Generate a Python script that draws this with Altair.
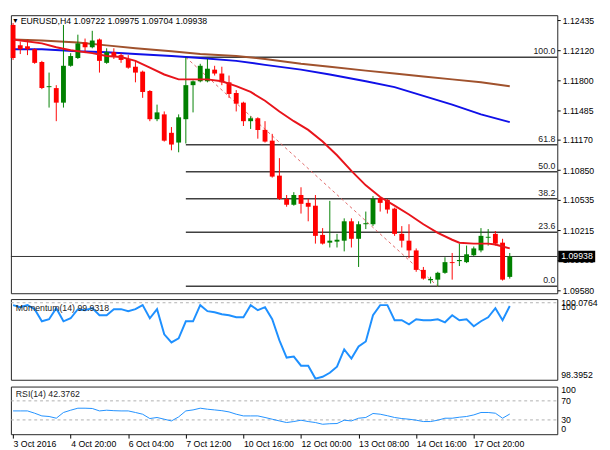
import altair as alt
import pandas as pd

FONT = "Liberation Sans"

# ---------------- data ----------------
opens = [1.12387, 1.12171, 1.12161, 1.12130, 1.11996, 1.11729, 1.11719, 1.11565, 1.11955, 1.12037,
         1.12202, 1.12151, 1.12233, 1.11986, 1.12099, 1.12068, 1.12027, 1.11945, 1.11893, 1.11688,
         1.11390, 1.11441, 1.11246, 1.11143, 1.11390, 1.11750, 1.11791, 1.11791, 1.11914, 1.11873,
         1.11780, 1.11667, 1.11565, 1.11369, 1.11400, 1.11277, 1.11163, 1.10793, 1.10547, 1.10485,
         1.10588, 1.10505, 1.10475, 1.10166, 1.10084, 1.10095, 1.10105, 1.10310, 1.10125, 1.10279,
         1.10279, 1.10557, 1.10536, 1.10444, 1.10177, 1.10105, 1.10002, 1.09796, 1.09686, 1.09693,
         1.09765, 1.09878, 1.09889, 1.09878, 1.09951, 1.10002, 1.10136, 1.10177, 1.10084, 1.09722]
highs = [1.12408, 1.12212, 1.12233, 1.12140, 1.12007, 1.11883, 1.11750, 1.12387, 1.12089, 1.12284,
         1.12243, 1.12325, 1.12243, 1.12140, 1.12140, 1.12089, 1.12068, 1.12007, 1.11904, 1.11698,
         1.11544, 1.11472, 1.11307, 1.11441, 1.12045, 1.11801, 1.11976, 1.12027, 1.11955, 1.11945,
         1.11852, 1.11698, 1.11575, 1.11421, 1.11410, 1.11369, 1.11235, 1.10978, 1.10588, 1.10618,
         1.10670, 1.10547, 1.10588, 1.10238, 1.10526, 1.10177, 1.10341, 1.10341, 1.10310, 1.10413,
         1.10577, 1.10567, 1.10547, 1.10454, 1.10259, 1.10279, 1.10023, 1.09827, 1.09724, 1.09776,
         1.09930, 1.09975, 1.10074, 1.10053, 1.10043, 1.10238, 1.10228, 1.10207, 1.10125, 1.09975]
lows = [1.12017, 1.12079, 1.12068, 1.11976, 1.11708, 1.11513, 1.11369, 1.11513, 1.11945, 1.12027,
        1.12089, 1.12140, 1.11883, 1.11976, 1.12027, 1.11986, 1.11924, 1.11780, 1.11616, 1.11369,
        1.11369, 1.11153, 1.11061, 1.11040, 1.11133, 1.11462, 1.11780, 1.11780, 1.11852, 1.11750,
        1.11616, 1.11472, 1.11318, 1.11287, 1.11184, 1.11143, 1.10772, 1.10536, 1.10464, 1.10475,
        1.10392, 1.10310, 1.10074, 1.10064, 1.10033, 1.10033, 1.09992, 1.10033, 1.09827, 1.10228,
        1.10259, 1.10413, 1.10392, 1.10156, 1.10033, 1.09920, 1.09776, 1.09693, 1.09652, 1.09622,
        1.09755, 1.09693, 1.09837, 1.09868, 1.09941, 1.09982, 1.10053, 1.10053, 1.09683, 1.09704]
closes = [1.12037, 1.12130, 1.12130, 1.11986, 1.11719, 1.11739, 1.11565, 1.11955, 1.12058, 1.12192,
          1.12151, 1.12222, 1.12007, 1.12099, 1.12058, 1.12017, 1.11935, 1.11883, 1.11678, 1.11390,
          1.11462, 1.11163, 1.11122, 1.11410, 1.11750, 1.11791, 1.11955, 1.11924, 1.11873, 1.11780,
          1.11657, 1.11554, 1.11369, 1.11400, 1.11277, 1.11153, 1.10783, 1.10547, 1.10485, 1.10588,
          1.10495, 1.10464, 1.10156, 1.10074, 1.10105, 1.10115, 1.10310, 1.10125, 1.10279, 1.10290,
          1.10547, 1.10505, 1.10434, 1.10177, 1.10105, 1.10002, 1.09796, 1.09704, 1.09700, 1.09765,
          1.09878, 1.09868, 1.09901, 1.09961, 1.10023, 1.10156, 1.10146, 1.10074, 1.09693, 1.09938]

tick_bars = [0, 8, 16, 24, 32, 40, 48, 56, 64]
tick_labels = ["3 Oct 2016", "4 Oct 20:00", "6 Oct 04:00", "7 Oct 12:00", "10 Oct 16:00",
               "12 Oct 00:00", "13 Oct 08:00", "14 Oct 16:00", "17 Oct 20:00"]

ma_red_bars = [0, 4, 6, 8, 11, 13, 15, 17, 19, 21, 23, 25, 27, 29, 31, 33, 35, 37, 39, 41, 43, 45,
               47, 49, 51, 53, 55, 57, 59, 61, 62, 64, 66, 67, 68, 69]
ma_red = [1.12233, 1.12192, 1.12151, 1.12120, 1.12089, 1.12058, 1.12048, 1.12007, 1.11935, 1.11863,
          1.11811, 1.11811, 1.11811, 1.11791, 1.11739, 1.11678, 1.11585, 1.11472, 1.11369, 1.11277,
          1.11153, 1.11009, 1.10844, 1.10690, 1.10567, 1.10475, 1.10382, 1.10279, 1.10187, 1.10115,
          1.10084, 1.10074, 1.10074, 1.10064, 1.10043, 1.10023]
ma_slow_bars = [0, 4, 9, 13, 17, 22, 26, 31, 35, 40, 44, 49, 53, 57, 61, 65, 69]
ma_blue = [1.12130, 1.12130, 1.12109, 1.12099, 1.12079, 1.12058, 1.12037, 1.12007, 1.11965, 1.11914,
           1.11863, 1.11791, 1.11729, 1.11636, 1.11544, 1.11441, 1.11359]
ma_brown = [1.12233, 1.12222, 1.12202, 1.12171, 1.12140, 1.12109, 1.12079, 1.12058, 1.12027, 1.11976,
            1.11945, 1.11904, 1.11873, 1.11842, 1.11811, 1.11780, 1.11739]

fib_labels = ["100.0", "61.8", "50.0", "38.2", "23.6", "0.0"]
fib_prices = [1.12045, 1.11119, 1.10834, 1.10548, 1.10194, 1.09622]
fib_start_bar = 24
trend_bars = [24, 59]
trend_prices = [1.12045, 1.09622]

price_ticks = [1.12435, 1.12120, 1.11800, 1.11485, 1.11170, 1.10850, 1.10535, 1.10215, 1.09900, 1.09580]
last_price = 1.09938

momentum = [99.950, 99.908, 99.950, 99.866, 99.614, 99.656, 99.887, 99.614, 99.677, 99.866,
            99.845, 99.887, 99.740, 99.740, 99.866, 99.866, 99.824, 99.866, 99.950, 99.677,
            99.866, 99.341, 99.173, 99.257, 99.614, 99.614, 99.950, 99.824, 99.803, 99.761,
            99.740, 99.698, 99.698, 99.950, 99.845, 99.908, 99.656, 99.215, 98.858, 98.879,
            98.689, 98.689, 98.420, 98.458, 98.542, 98.668, 99.026, 98.837, 99.089, 99.194,
            99.740, 99.950, 99.950, 99.635, 99.635, 99.551, 99.656, 99.635, 99.635, 99.656,
            99.593, 99.740, 99.635, 99.656, 99.509, 99.614, 99.698, 99.887, 99.635, 99.9318]
mom_min, mom_max = 98.3952, 100.0764

rsi = [48.9, 48.9, 48.9, 44.1, 38.4, 37.2, 33.6, 45.6, 50.4, 54.6,
       54.6, 54.0, 48.9, 50.4, 49.4, 48.9, 48.9, 45.6, 42.0, 32.9,
       35.1, 31.5, 27.9, 36.3, 48.9, 51.0, 54.6, 52.5, 51.0, 49.4,
       46.8, 42.0, 38.4, 38.4, 38.4, 35.1, 31.5, 27.9, 24.5, 26.6,
       29.4, 26.6, 24.5, 20.9, 22.0, 22.4, 29.4, 27.9, 33.6, 35.1,
       43.5, 42.0, 38.8, 35.1, 32.9, 31.5, 29.4, 26.6, 26.6, 29.4,
       33.6, 33.6, 35.7, 37.2, 40.5, 45.6, 45.6, 44.1, 33.6, 42.3762]

# ---------------- tables ----------------
n = len(opens)
candles = pd.DataFrame({
    "i": list(range(n)), "o": opens, "h": highs, "l": lows, "c": closes,
})
candles["col"] = ["#008000" if c >= o else "#ff0000" for o, c in zip(opens, closes)]

red_df = pd.DataFrame({"i": ma_red_bars, "v": ma_red})
blue_df = pd.DataFrame({"i": ma_slow_bars, "v": ma_blue})
brown_df = pd.DataFrame({"i": ma_slow_bars, "v": ma_brown})
fib_df = pd.DataFrame({"start": [fib_start_bar] * len(fib_prices), "price": fib_prices, "label": fib_labels})
trend_df = pd.DataFrame({"i": trend_bars, "v": trend_prices})
mom_df = pd.DataFrame({"i": list(range(n)), "m": momentum})
rsi_df = pd.DataFrame({"i": list(range(n)), "r": rsi})
one = pd.DataFrame({"k": [0]})   # single row for annotations

W = 562
H_MAIN, H_MOM, H_RSI = 286, 83, 49

xscale = alt.Scale(domain=[-0.3, 75.6], nice=False, zero=False, padding=0)
yscale = alt.Scale(domain=[1.09549, 1.12490], nice=False, zero=False)
main_axis = alt.Axis(orient="right", values=price_ticks, format=".5f", grid=False, domain=False,
                     tickSize=3, tickColor="black", labelPadding=2, labelFontSize=9, labelFont=FONT,
                     labelColor="black", labelBaseline="middle", title=None, labelOverlap=False,
                     labelBound=False, labelFlush=False)


def X(field="i"):
    return alt.X(f"{field}:Q", scale=xscale, axis=None)


def YM(field):
    return alt.Y(f"{field}:Q", scale=yscale, axis=main_axis)


def YMd(val):
    return alt.Y(datum=val, type="quantitative", scale=yscale, axis=main_axis)


base = alt.Chart(candles)
wicks = base.mark_rule(strokeWidth=1).encode(x=X(), y=YM("l"), y2="h:Q",
                                              color=alt.Color("col:N", scale=None))
bodies = base.mark_bar(size=5).encode(x=X(), y=YM("o"), y2="c:Q",
                                      color=alt.Color("col:N", scale=None))

brown_line = alt.Chart(brown_df).mark_line(color="#a0522d", strokeWidth=2).encode(x=X(), y=YM("v"))
blue_line = alt.Chart(blue_df).mark_line(color="#1010e8", strokeWidth=2).encode(x=X(), y=YM("v"))
red_line = alt.Chart(red_df).mark_line(color="#e8141b", strokeWidth=2).encode(x=X(), y=YM("v"))

fib_rules = alt.Chart(fib_df).mark_rule(color="#404040", strokeWidth=1.5).encode(
    x=X("start"), x2=alt.value(W), y=YM("price"))
fib_text = alt.Chart(fib_df).mark_text(align="right", baseline="bottom", dy=-1, fontSize=9,
                                       font=FONT, color="#222").encode(
    x=alt.value(W - 2), y=YM("price"), text="label:N")
trend = alt.Chart(trend_df).mark_line(color="#e06666", strokeWidth=1, strokeDash=[3, 3]).encode(
    x=X(), y=YM("v"))

price_line = alt.Chart(one).mark_rule(color="#303030", strokeWidth=1).encode(
    x=alt.value(0), x2=alt.value(W), y=YMd(last_price))
price_box = alt.Chart(one).mark_rule(color="black", strokeWidth=12, strokeCap="butt").encode(
    x=alt.value(W + 1), x2=alt.value(W + 39), y=YMd(last_price))
price_txt = alt.Chart(one).mark_text(align="left", baseline="middle", fontSize=9, font=FONT,
                                     color="white").encode(
    x=alt.value(W + 4), y=YMd(last_price), text=alt.value(f"{last_price:.5f}"))

header = f"EURUSD,H4  {opens[-1]:.5f} {highs[-1]:.5f} {lows[-1]:.5f} {closes[-1]:.5f}"
head_tri = alt.Chart(one).mark_text(align="left", baseline="middle", fontSize=7, font=FONT,
                                    color="black").encode(
    x=alt.value(1), y=alt.value(6), text=alt.value("▼"))
head_txt = alt.Chart(one).mark_text(align="left", baseline="middle", fontSize=9, font=FONT,
                                    color="black").encode(
    x=alt.value(10), y=alt.value(6), text=alt.value(header))

main = alt.layer(fib_rules, price_line, trend, brown_line, blue_line, wicks, bodies, red_line,
                 fib_text, price_box, price_txt, head_tri, head_txt).properties(width=W, height=H_MAIN)

# ---------------- momentum ----------------
mscale = alt.Scale(domain=[mom_min, mom_max], nice=False, zero=False)
mom_ref = alt.Chart(one).mark_rule(color="#b0b0b0", strokeDash=[3, 3], strokeWidth=1).encode(
    x=alt.value(0), x2=alt.value(W), y=alt.Y(datum=100, type="quantitative", scale=mscale, axis=None))
mom_line = alt.Chart(mom_df).mark_line(color="#1e90ff", strokeWidth=2).encode(
    x=X(), y=alt.Y("m:Q", scale=mscale, axis=None))
mom_lbl = alt.Chart(one).mark_text(align="left", baseline="middle", fontSize=9, font=FONT,
                                   color="#222").encode(
    x=alt.value(5), y=alt.value(9), text=alt.value(f"Momentum(14) {momentum[-1]:.4f}"))


def side_label(val, txt, scale, baseline):
    return alt.Chart(one).mark_text(align="left", baseline=baseline, fontSize=9, font=FONT,
                                    color="black").encode(
        x=alt.value(W + 4), y=alt.Y(datum=val, type="quantitative", scale=scale, axis=None),
        text=alt.value(txt))


mom = alt.layer(mom_ref, mom_line, mom_lbl,
                side_label(mom_max, f"{mom_max:.4f}", mscale, "top"),
                side_label(100, "100", mscale, "top"),
                side_label(mom_min, f"{mom_min:.4f}", mscale, "bottom")).properties(width=W, height=H_MOM)

# ---------------- RSI ----------------
rscale = alt.Scale(domain=[0, 100], nice=False, zero=False)
label_expr = "[" + ",".join(f"'{t}'" for t in tick_labels) + "][round(datum.value/8)]"
x_axis = alt.Axis(values=tick_bars, labelExpr=label_expr, labelAlign="left", labelBaseline="top",
                  tickSize=4, tickColor="black", labelPadding=2, grid=False, domain=False,
                  labelFontSize=9, labelFont=FONT, labelColor="black", title=None,
                  labelOverlap=False, labelFlush=False, labelBound=False)
rsi_levels = pd.DataFrame({"v": [70, 30]})
rsi_ref = alt.Chart(rsi_levels).mark_rule(color="#b0b0b0", strokeDash=[3, 3], strokeWidth=1).encode(
    x=alt.value(0), x2=alt.value(W), y=alt.Y("v:Q", scale=rscale, axis=None))
rsi_line = alt.Chart(rsi_df).mark_line(color="#1e90ff", strokeWidth=1).encode(
    x=alt.X("i:Q", scale=xscale, axis=x_axis), y=alt.Y("r:Q", scale=rscale, axis=None))
rsi_lbl = alt.Chart(one).mark_text(align="left", baseline="middle", fontSize=9, font=FONT,
                                   color="#222").encode(
    x=alt.value(5), y=alt.value(8), text=alt.value(f"RSI(14) {rsi[-1]:.4f}"))

rsi_chart = alt.layer(rsi_ref, rsi_line, rsi_lbl,
                      side_label(100, "100", rscale, "top"),
                      side_label(70, "70", rscale, "middle"),
                      side_label(30, "30", rscale, "middle"),
                      side_label(0, "0", rscale, "bottom")).properties(width=W, height=H_RSI)

chart = alt.vconcat(main, mom, rsi_chart, spacing=2).properties(
    padding=0, background="white"
).configure_view(stroke="#222", strokeWidth=1)

chart.save("out.html", embed_options={"renderer": "svg", "actions": False})
